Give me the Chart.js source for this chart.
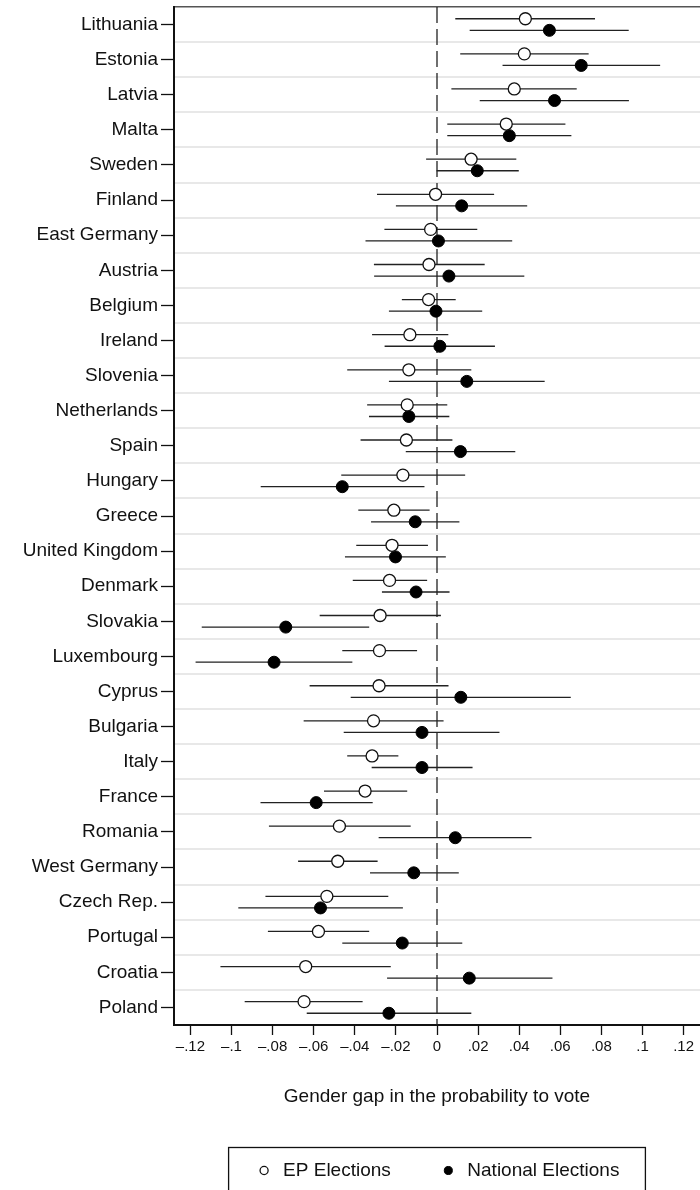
<!DOCTYPE html>
<html>
<head>
<meta charset="utf-8">
<script src="https://cdn.jsdelivr.net/npm/chart.js@4/dist/chart.umd.min.js"></script>
<style>
  html, body { margin: 0; padding: 0; background: #fff; }
  #wrap { width: 700px; height: 1190px; position: relative; }
</style>
</head>
<body>
<div id="wrap"><canvas id="gapChart"></canvas></div>
<script>
// Countries, top to bottom
const countries = ['Lithuania', 'Estonia', 'Latvia', 'Malta', 'Sweden', 'Finland', 'East Germany',
    'Austria', 'Belgium', 'Ireland', 'Slovenia', 'Netherlands', 'Spain', 'Hungary', 'Greece',
    'United Kingdom', 'Denmark', 'Slovakia', 'Luxembourg', 'Cyprus', 'Bulgaria', 'Italy', 'France',
    'Romania', 'West Germany', 'Czech Rep.', 'Portugal', 'Croatia', 'Poland'];

// EP elections: estimate and confidence interval
const epEst = [0.0430, 0.0425, 0.0376, 0.0337, 0.0166, -0.0007, -0.0031, -0.0039, -0.0041, -0.0132,
    -0.0137, -0.0145, -0.0149, -0.0166, -0.0210, -0.0219, -0.0231, -0.0277, -0.0280, -0.0282,
    -0.0309, -0.0316, -0.0350, -0.0475, -0.0483, -0.0536, -0.0577, -0.0639, -0.0647];
const epLo = [0.0089, 0.0113, 0.0070, 0.0050, -0.0053, -0.0292, -0.0256, -0.0307, -0.0171, -0.0316,
    -0.0437, -0.0340, -0.0372, -0.0466, -0.0383, -0.0393, -0.0410, -0.0571, -0.0461, -0.0620,
    -0.0649, -0.0437, -0.0550, -0.0818, -0.0676, -0.0835, -0.0823, -0.1054, -0.0936];
const epHi = [0.0769, 0.0738, 0.0680, 0.0625, 0.0386, 0.0278, 0.0196, 0.0232, 0.0091, 0.0055,
    0.0167, 0.0050, 0.0075, 0.0137, -0.0036, -0.0044, -0.0048, 0.0019, -0.0097, 0.0056,
    0.0032, -0.0188, -0.0145, -0.0128, -0.0289, -0.0237, -0.0330, -0.0225, -0.0362];

// National elections: estimate and confidence interval
const natEst = [0.0547, 0.0702, 0.0572, 0.0352, 0.0196, 0.0120, 0.0007, 0.0058, -0.0005, 0.0014,
    0.0145, -0.0137, 0.0114, -0.0461, -0.0106, -0.0202, -0.0102, -0.0736, -0.0793, 0.0116,
    -0.0073, -0.0073, -0.0588, 0.0089, -0.0113, -0.0567, -0.0169, 0.0157, -0.0234];
const natLo = [0.0159, 0.0319, 0.0208, 0.0050, -0.0002, -0.0200, -0.0348, -0.0306, -0.0234, -0.0255,
    -0.0234, -0.0331, -0.0152, -0.0858, -0.0321, -0.0448, -0.0268, -0.1145, -0.1175, -0.0420,
    -0.0454, -0.0318, -0.0859, -0.0284, -0.0326, -0.0967, -0.0461, -0.0243, -0.0634];
const natHi = [0.0933, 0.1086, 0.0934, 0.0654, 0.0398, 0.0439, 0.0366, 0.0425, 0.0220, 0.0282,
    0.0524, 0.0060, 0.0381, -0.0061, 0.0109, 0.0043, 0.0061, -0.0330, -0.0412, 0.0651,
    0.0304, 0.0173, -0.0313, 0.0460, 0.0106, -0.0166, 0.0123, 0.0562, 0.0167];

// X axis ticks
const xTicks = [-0.12, -0.1, -0.08, -0.06, -0.04, -0.02, 0, 0.02, 0.04, 0.06, 0.08, 0.1, 0.12];
const xTickLabels = ['\u2013.12', '\u2013.1', '\u2013.08', '\u2013.06', '\u2013.04', '\u2013.02', '0',
    '.02', '.04', '.06', '.08', '.1', '.12'];

const FONT = "'Liberation Sans', Arial, Helvetica, sans-serif";
const INK = '#111';
const ROW_SHIFT = 0.165;   // EP above the row centre, national below
const Y_MIN = -0.5;
const Y_MAX = countries.length - 0.5;

const epPoints = countries.map((c, i) => ({ x: epEst[i], y: i - ROW_SHIFT }));
const natPoints = countries.map((c, i) => ({ x: natEst[i], y: i + ROW_SHIFT }));

// interval segments, broken by null points
function segments(lo, hi, shift) {
    const out = [];
    countries.forEach((c, i) => {
        out.push({ x: lo[i], y: i + shift }, { x: hi[i], y: i + shift }, { x: null, y: null });
    });
    return out;
}

// no extra room for half labels at the ends of the axes
function noEdgePadding(axis) {
    axis.paddingTop = 0;
    axis.paddingBottom = 0;
    axis.paddingLeft = 0;
    axis.paddingRight = 0;
}

// frame around the legend
const legendFrame = {
    id: 'legendFrame',
    afterDraw(chart) {
        const boxes = chart.legend.legendHitBoxes;
        if (!boxes || !boxes.length) return;
        const first = boxes[0], last = boxes[boxes.length - 1];
        const ctx = chart.ctx;
        const left = first.left - 26;
        const right = last.left + last.width + 26;
        const top = first.top + first.height / 2 - 23;
        ctx.save();
        ctx.strokeStyle = INK;
        ctx.lineWidth = 1.3;
        ctx.strokeRect(left, top, right - left, chart.height - top + 10);
        ctx.restore();
    }
};

document.addEventListener('DOMContentLoaded', function () {
    const ctx = document.getElementById('gapChart');

    new Chart(ctx, {
        type: 'scatter',
        data: {
            datasets: [{
                label: 'EP Elections',
                data: epPoints,
                backgroundColor: '#fff',
                borderColor: INK,
                borderWidth: 1.3,
                pointRadius: 6,
                pointHoverRadius: 6,
                order: 1
            }, {
                label: 'National Elections',
                data: natPoints,
                backgroundColor: '#000',
                borderColor: '#000',
                borderWidth: 1,
                pointRadius: 6,
                pointHoverRadius: 6,
                order: 1
            }, {
                type: 'line',
                label: 'EP interval',
                data: segments(epLo, epHi, -ROW_SHIFT),
                borderColor: '#222',
                borderWidth: 1.3,
                pointRadius: 0,
                spanGaps: false,
                order: 3
            }, {
                type: 'line',
                label: 'National interval',
                data: segments(natLo, natHi, ROW_SHIFT),
                borderColor: '#222',
                borderWidth: 1.3,
                pointRadius: 0,
                spanGaps: false,
                order: 3
            }, {
                type: 'line',
                label: 'zero',
                data: [{ x: 0, y: Y_MIN }, { x: 0, y: Y_MAX }],
                borderColor: '#222',
                borderWidth: 1.3,
                borderDash: [16, 6],
                pointRadius: 0,
                order: 4
            }]
        },
        options: {
            responsive: true,
            maintainAspectRatio: false,
            animation: false,
            layout: {
                autoPadding: false,
                padding: { left: 0, right: 0, top: 7, bottom: 0 }
            },
            scales: {
                x: {
                    type: 'linear',
                    position: 'bottom',
                    min: -0.128,
                    max: 0.128,
                    afterBuildTicks: axis => { axis.ticks = xTicks.map(v => ({ value: v })); },
                    afterFit: noEdgePadding,
                    ticks: {
                        color: INK,
                        padding: 3,
                        maxRotation: 0,
                        autoSkip: false,
                        font: { family: FONT, size: 15 },
                        callback: value => {
                            const k = xTicks.findIndex(t => Math.abs(t - value) < 1e-9);
                            return k >= 0 ? xTickLabels[k] : '';
                        }
                    },
                    grid: {
                        drawOnChartArea: false,
                        tickLength: 10,
                        tickColor: INK,
                        tickWidth: 1.3
                    },
                    border: { display: true, color: INK, width: 2 },
                    title: {
                        display: true,
                        text: 'Gender gap in the probability to vote',
                        color: INK,
                        font: { family: FONT, size: 19 },
                        padding: { top: 26.6, bottom: 4.6 }
                    }
                },
                xt: {
                    type: 'linear',
                    position: 'top',
                    min: -0.128,
                    max: 0.128,
                    afterFit: noEdgePadding,
                    ticks: { display: false },
                    grid: { drawOnChartArea: false, drawTicks: false },
                    border: { display: true, color: '#555', width: 1.6 }
                },
                y: {
                    type: 'linear',
                    position: 'left',
                    min: Y_MIN,
                    max: Y_MAX,
                    reverse: true,
                    afterBuildTicks: axis => { axis.ticks = countries.map((c, i) => ({ value: i })); },
                    afterFit: axis => { noEdgePadding(axis); axis.width = 174; },
                    ticks: {
                        color: INK,
                        padding: 3,
                        autoSkip: false,
                        font: { family: FONT, size: 19 },
                        callback: value => countries[value]
                    },
                    grid: {
                        drawOnChartArea: false,
                        tickLength: 13,
                        tickColor: INK,
                        tickWidth: 1.3
                    },
                    border: { display: true, color: INK, width: 2 }
                },
                yg: {
                    type: 'linear',
                    position: 'left',
                    min: Y_MIN,
                    max: Y_MAX,
                    reverse: true,
                    afterBuildTicks: axis => {
                        axis.ticks = countries.slice(1).map((c, i) => ({ value: i + 0.5 }));
                    },
                    afterFit: noEdgePadding,
                    ticks: { display: false },
                    grid: { drawTicks: false, color: 'rgb(232, 232, 232)', lineWidth: 2 },
                    border: { display: false }
                }
            },
            plugins: {
                legend: {
                    position: 'bottom',
                    fullSize: false,
                    labels: {
                        usePointStyle: true,
                        pointStyle: 'circle',
                        boxWidth: 19,
                        boxHeight: 5.7,
                        padding: 48,
                        color: INK,
                        font: { family: FONT, size: 19 },
                        filter: item => item.datasetIndex < 2
                    }
                },
                tooltip: { enabled: false }
            }
        },
        plugins: [legendFrame]
    });
});
</script>
</body>
</html>
